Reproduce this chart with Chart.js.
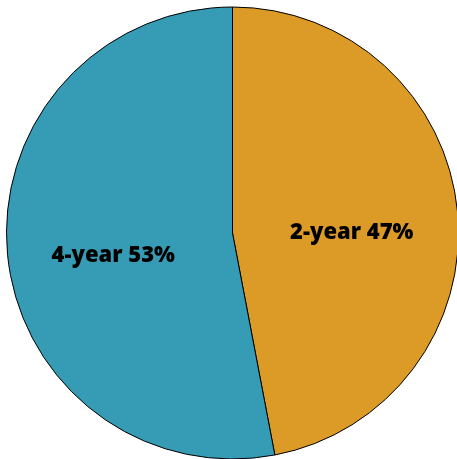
<!DOCTYPE html>
<html>
<head>
<meta charset="utf-8">
<script src="https://cdn.jsdelivr.net/npm/chart.js@4"></script>
<style>
  html, body { margin: 0; padding: 0; background: #fff; overflow: hidden; }
  #wrap { position: absolute; left: 0; top: 0; width: 465px; height: 466px; }
</style>
</head>
<body>
<div id="wrap"><canvas id="pie"></canvas></div>
<script>
const labels = ['2-year', '4-year'];
const shares = [47, 53];
const colours = ['rgb(220, 155, 38)', 'rgb(54, 155, 180)'];

// write "label NN%" inside each slice
const sliceLabels = {
  id: 'sliceLabels',
  afterDatasetsDraw(chart) {
    const ctx = chart.ctx;
    const meta = chart.getDatasetMeta(0);
    ctx.save();
    ctx.font = '800 22px "Open Sans", sans-serif';
    ctx.fillStyle = '#000';
    ctx.textAlign = 'center';
    ctx.textBaseline = 'top';
    meta.data.forEach((arc, i) => {
      const p = arc.getProps(['x', 'y', 'startAngle', 'endAngle', 'outerRadius'], true);
      const mid = (p.startAngle + p.endAngle) / 2;
      const r = p.outerRadius * 0.53;
      const x = p.x + Math.cos(mid) * r;
      const y = p.y + Math.sin(mid) * r;
      ctx.fillText(labels[i] + ' ' + shares[i] + '%', x, y);
    });
    ctx.restore();
  }
};

new Chart(document.getElementById('pie'), {
  type: 'pie',
  data: {
    labels: labels,
    datasets: [{
      data: shares,
      backgroundColor: colours,
      borderColor: '#000',
      borderWidth: 1
    }]
  },
  options: {
    responsive: true,
    maintainAspectRatio: false,
    animation: false,
    layout: { padding: 6 },
    plugins: {
      legend: { display: false },
      tooltip: { enabled: false }
    }
  },
  plugins: [sliceLabels]
});
</script>
</body>
</html>
